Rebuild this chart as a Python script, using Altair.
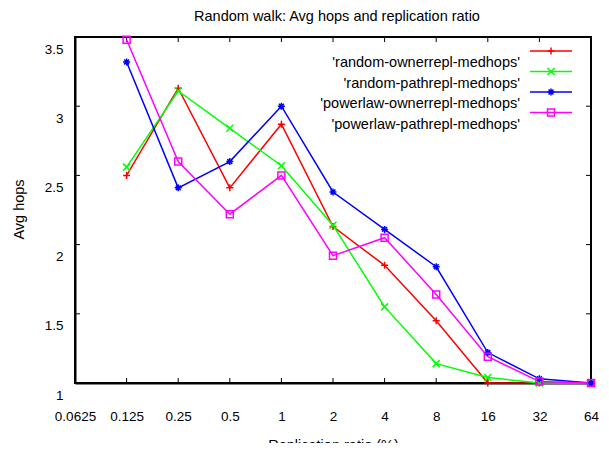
import altair as alt
import pandas as pd

# ---- data ----
x_ratio = [0.125, 0.25, 0.5, 1, 2, 4, 8, 16, 32, 64]
series_names = [
    "'random-ownerrepl-medhops'",
    "'random-pathrepl-medhops'",
    "'powerlaw-ownerrepl-medhops'",
    "'powerlaw-pathrepl-medhops'",
]
random_owner = [2.50, 3.13, 2.41, 2.87, 2.13, 1.85, 1.45, 1.00, 1.00, 1.00]
random_path = [2.56, 3.11, 2.84, 2.57, 2.14, 1.55, 1.14, 1.04, 1.00, 1.00]
powerlaw_owner = [3.32, 2.41, 2.60, 3.00, 2.38, 2.11, 1.84, 1.22, 1.03, 1.00]
powerlaw_path = [3.48, 2.60, 2.22, 2.50, 1.92, 2.05, 1.64, 1.19, 1.01, 1.00]
colors = ["#ff0000", "#00ff00", "#0000ff", "#ff00ff"]
x_ticks = [0.0625, 0.125, 0.25, 0.5, 1, 2, 4, 8, 16, 32, 64]
y_ticks = [1, 1.5, 2, 2.5, 3, 3.5]
title_text = "Random walk: Avg hops and replication ratio"
x_title = "Replication ratio (%)"
y_title = "Avg hops"

FONT = "Liberation Sans"
TICK_FS = 13.5
TEXT_FS = 14.5
W, H = 516, 346
X0, X1 = x_ticks[0], x_ticks[-1]
Y0, Y1 = y_ticks[0], y_ticks[-1]
TICK_PX = 5

rows = []
for name, vals in zip(series_names, [random_owner, random_path, powerlaw_owner, powerlaw_path]):
    for xv, yv in zip(x_ratio, vals):
        rows.append({"series": name, "x": xv, "y": yv})
df = pd.DataFrame(rows)

plus = "M-1,0L1,0M0,-1L0,1"
cross = "M-1,-1L1,1M-1,1L1,-1"
star = "M-1,0L1,0M0,-1L0,1M-0.7,-0.7L0.7,0.7M-0.7,0.7L0.7,-0.7"
shapes = [plus, cross, star, "square"]

xscale = alt.Scale(type="log", base=2, domain=[X0, X1], nice=False)
yscale = alt.Scale(domain=[Y0, Y1], nice=False, zero=False)
cscale = alt.Scale(domain=series_names, range=colors)
sscale = alt.Scale(domain=series_names, range=shapes)

xaxis = alt.Axis(values=x_ticks, labelExpr="datum.value + ''", ticks=False, grid=False,
                 domain=True, domainColor="#000000", domainWidth=2,
                 labelPadding=33, labelBaseline="middle", labelFlush=False,
                 labelOverlap=False, labelFont=FONT, labelFontSize=TICK_FS, labelColor="black",
                 title=x_title, titleFont=FONT, titleFontSize=TEXT_FS, titleFontWeight="normal",
                 titleColor="black", titleY=62, titleBaseline="middle")
yaxis = alt.Axis(values=y_ticks, labelExpr="datum.value + ''", ticks=False, grid=False,
                 domain=True, domainColor="#000000", domainWidth=2,
                 labelPadding=12, labelOffset=12,
                 labelFont=FONT, labelFontSize=TICK_FS, labelColor="black",
                 title=y_title, titleFont=FONT, titleFontSize=TEXT_FS, titleFontWeight="normal",
                 titleColor="black", titleX=-49, titleY=172, titleAlign="center")

def X(field):
    return alt.X(field, scale=xscale, axis=xaxis)

def Y(field):
    return alt.Y(field, scale=yscale, axis=yaxis)

color = alt.Color("series:N", scale=cscale, legend=None)
shape = alt.Shape("series:N", scale=sscale, legend=None)

lines = alt.Chart(df).mark_line(strokeWidth=1.5).encode(
    x=X("x:Q"), y=Y("y:Q"), color=color, detail="series:N")
points = alt.Chart(df).mark_point(filled=False, size=49, strokeWidth=1.5, opacity=1).encode(
    x=X("x:Q"), y=Y("y:Q"), color=color, shape=shape)

# frame and inward ticks as thin filled bars, sized in data units through the scales
py = (Y1 - Y0) / H          # one pixel in y data units
px = 2 ** (10 / W)          # one pixel as a log2 factor in x
bar_rows = [
    {"xa": X0 / px, "xb": X1 * px, "ya": Y0 - py, "yb": Y0 + py},   # bottom
    {"xa": X0 / px, "xb": X1 * px, "ya": Y1 - py, "yb": Y1 + py},   # top
    {"xa": X0 / px, "xb": X0 * px, "ya": Y0 - py, "yb": Y1 + py},   # left
    {"xa": X1 / px, "xb": X1 * px, "ya": Y0 - py, "yb": Y1 + py},   # right
]
for v in x_ticks[1:-1]:
    bar_rows.append({"xa": v / px ** 0.5, "xb": v * px ** 0.5, "ya": Y0, "yb": Y0 + TICK_PX * py})
    bar_rows.append({"xa": v / px ** 0.5, "xb": v * px ** 0.5, "ya": Y1 - TICK_PX * py, "yb": Y1})
for v in y_ticks[1:-1]:
    bar_rows.append({"xa": X0, "xb": X0 * px ** TICK_PX, "ya": v - py / 2, "yb": v + py / 2})
    bar_rows.append({"xa": X1 / px ** TICK_PX, "xb": X1, "ya": v - py / 2, "yb": v + py / 2})
bars_df = pd.DataFrame(bar_rows)
frame = alt.Chart(bars_df).mark_rect(fill="#000000", strokeWidth=0, opacity=1).encode(
    x=X("xa:Q"), x2="xb:Q", y=Y("ya:Q"), y2="yb:Q")

# ---- manual legend (gnuplot style: label left, sample right), one row per series ----
leg_df = pd.DataFrame({"series": series_names})
LEG_Y0, LEG_DY = 14, 20.5
legend_layers = []
for i, name in enumerate(series_names):
    base = alt.Chart(leg_df).transform_filter(alt.datum.series == name)
    yy = LEG_Y0 + i * LEG_DY
    legend_layers.append(base.mark_rule(strokeWidth=1.5).encode(
        x=alt.value(455), x2=alt.value(497), y=alt.value(yy), color=color))
    legend_layers.append(base.mark_point(filled=False, size=49, strokeWidth=1.5, opacity=1).encode(
        x=alt.value(476), y=alt.value(yy), color=color, shape=shape))
    legend_layers.append(base.mark_text(align="right", baseline="middle", font=FONT,
                                        fontSize=TEXT_FS, color="black").encode(
        x=alt.value(445), y=alt.value(yy + 12), text="series:N"))

# chart title drawn as a text mark above the plot
title_df = pd.DataFrame({"t": [title_text]})
title_mark = alt.Chart(title_df).mark_text(align="center", baseline="middle", font=FONT,
                                           fontSize=TEXT_FS, color="black").encode(
    x=alt.value(W / 2 + 4), y=alt.value(-20), text="t:N")

chart = alt.layer(frame, lines, points, *legend_layers, title_mark).properties(
    width=W, height=H,
    padding={"left": 67, "top": 29, "right": 10, "bottom": 60},
    autosize=alt.AutoSizeParams(type="none"),
    background="white",
).configure_view(stroke="#000000", strokeWidth=2)

chart.save("out.html", embed_options={"renderer": "svg", "actions": False})
